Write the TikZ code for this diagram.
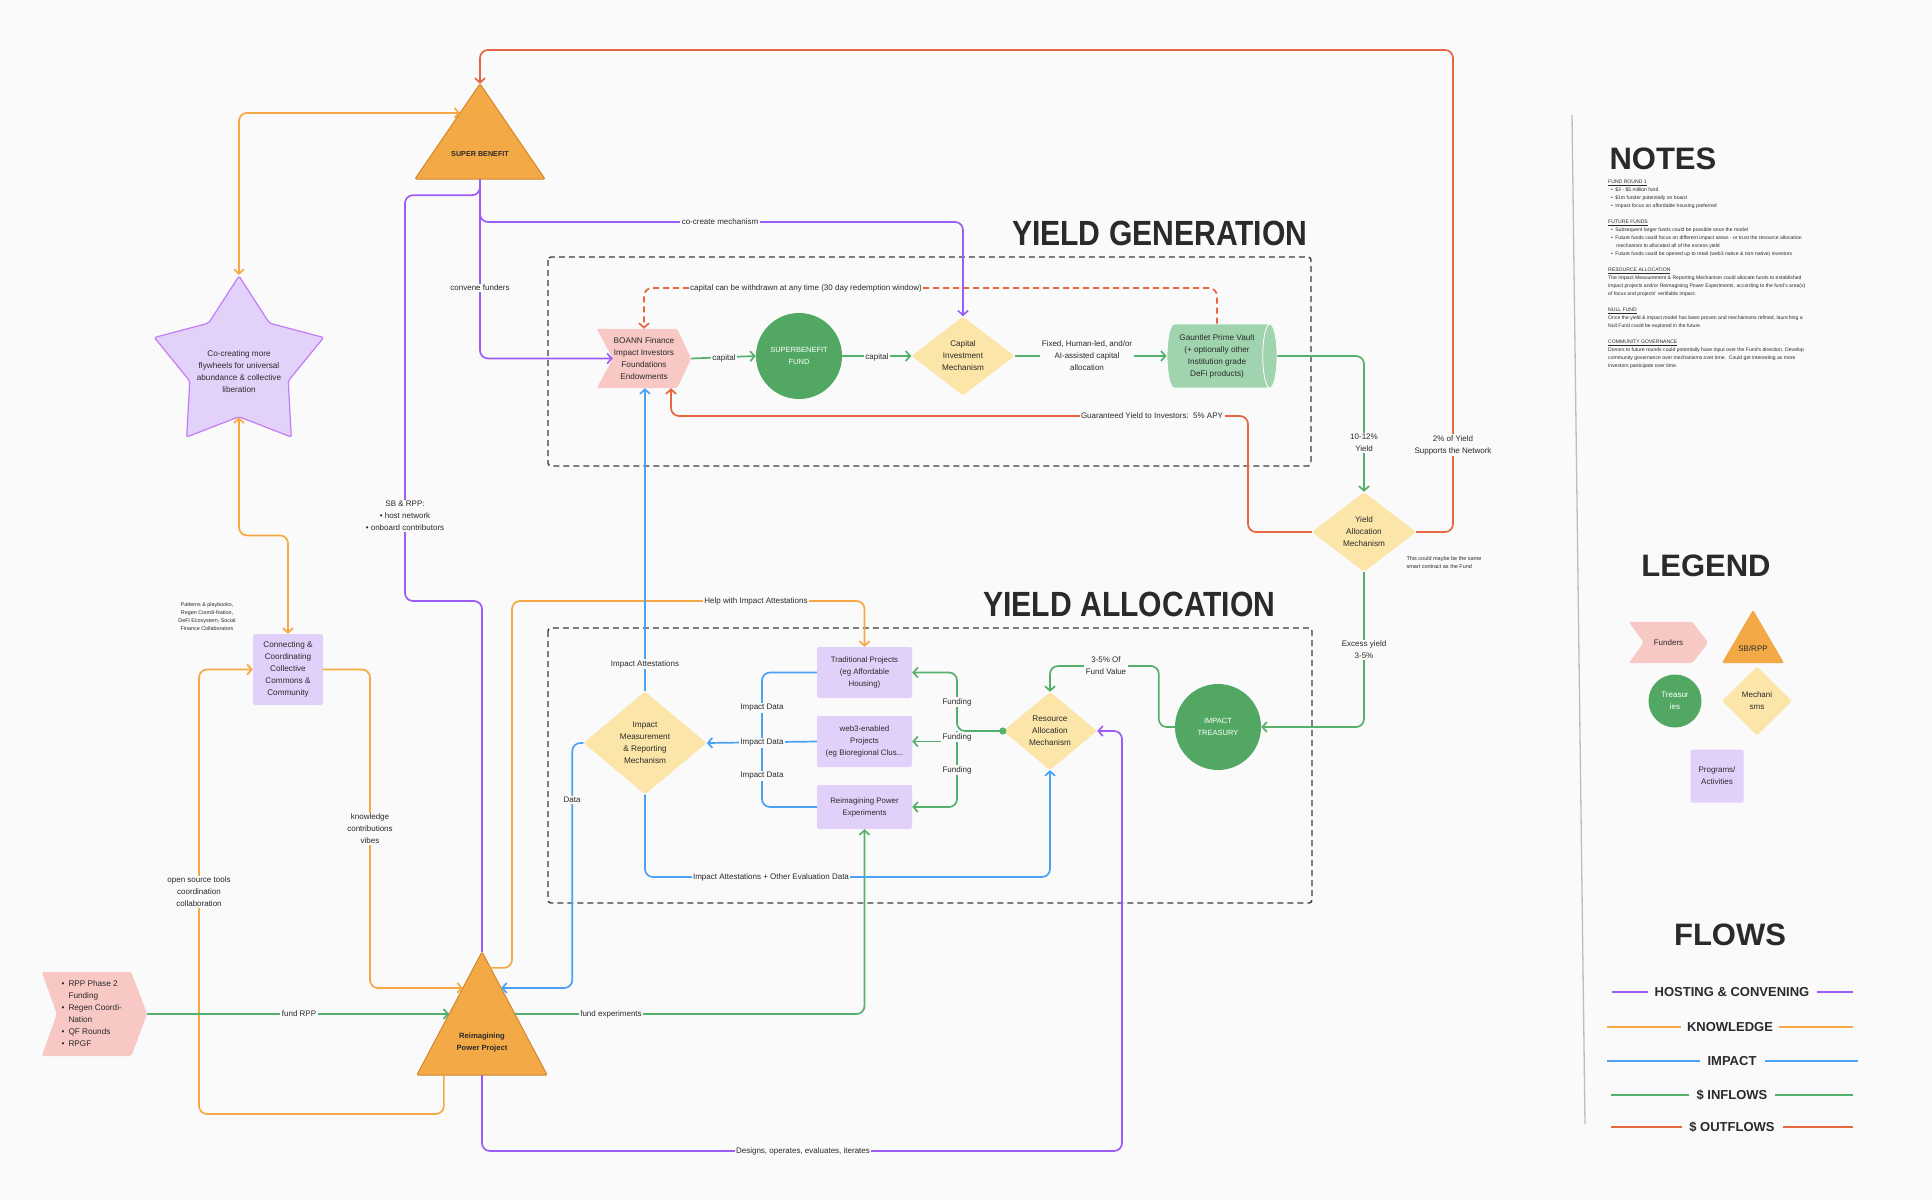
\documentclass[tikz,border=0pt]{standalone}
\usepackage{fontspec}
\setmainfont{Liberation Sans}
\newfontfamily\headfont{Liberation Sans}[FakeStretch=0.86]
\usetikzlibrary{arrows.meta,shapes.geometric,calc}
\pgfdeclarelayer{back}
\pgfdeclarelayer{canvas}
\pgfsetlayers{canvas,back,main}
\definecolor{bg}{HTML}{FAFAFA}
\definecolor{txt}{HTML}{2A2A2A}
\definecolor{cpur}{HTML}{9D5CF5}
\definecolor{corg}{HTML}{F5A844}
\definecolor{cblu}{HTML}{4BA2F4}
\definecolor{cgrn}{HTML}{55B06C}
\definecolor{cred}{HTML}{E4673F}
\definecolor{trif}{HTML}{F2A946}
\definecolor{trid}{HTML}{D2872E}
\definecolor{pinkf}{HTML}{F7C8C4}
\definecolor{circf}{HTML}{52A863}
\definecolor{diaf}{HTML}{FCE5A8}
\definecolor{boxf}{HTML}{E1D1FA}
\definecolor{starf}{HTML}{E2D2FA}
\definecolor{stard}{HTML}{C47CF4}
\definecolor{cylf}{HTML}{9FD4AE}
\definecolor{dashc}{HTML}{3C3C3C}
\definecolor{divc}{HTML}{BDBDBD}
\begin{document}
\begin{tikzpicture}[x=1pt,y=-1pt,
  every node/.style={text=txt},
  >={Straight Barb[length=4.5pt,width=10pt]},
  link/.style={line width=1.7pt, rounded corners=8pt},
  pur/.style={link, draw=cpur},
  org/.style={link, draw=corg},
  blu/.style={link, draw=cblu},
  grn/.style={link, draw=cgrn},
  red/.style={link, draw=cred},
  lbl/.style={fill=bg, inner sep=1.5pt, font=\fontsize{8}{12}\selectfont, align=center},
  ntx/.style={font=\fontsize{8.2}{12}\selectfont, align=center},
  dia/.style={diamond, fill=diaf, inner sep=0pt, rounded corners=2pt, ntx},
  pbox/.style={rectangle, fill=boxf, rounded corners=2pt, ntx, inner sep=0pt},
  trs/.style={circle, fill=circf, text=white, font=\fontsize{7.5}{12}\selectfont, align=center, inner sep=0pt},
  hold/.style={rectangle, inner sep=0pt},
  tri/.style={fill=trif, draw=trid, line width=1pt, rounded corners=2pt},
  chev/.style={fill=pinkf, rounded corners=2pt},
  dbox/.style={draw=dashc, line width=1.4pt, dash pattern=on 6pt off 4pt, rounded corners=3pt},
  small/.style={font=\fontsize{5.4}{8}\selectfont, align=center},
  ttl/.style={font=\bfseries\fontsize{31}{36}\selectfont},
  bigttl/.style={font=\headfont\bfseries\fontsize{35}{40}\selectfont},
  flw/.style={font=\bfseries\fontsize{13}{15}\selectfont}
]
\begin{pgfonlayer}{canvas}
\fill[bg] (0,0) rectangle (1932,1200);
\end{pgfonlayer}
\useasboundingbox (0,0) rectangle (1932,1200);

% divider
\draw[divc, line width=1.3pt] (1572,115) -- (1585,1124);

% dashed frames
\draw[dbox] (548,257) rectangle (1311,466);
\draw[dbox] (548,628) rectangle (1312,903);
\node[bigttl, anchor=east] (ygt) at (1311,233) {YIELD GENERATION};
\node[bigttl, anchor=east] (yat) at (1279,604) {YIELD ALLOCATION};

% ---------- nodes ----------
\node[hold, minimum width=130, minimum height=95] (sb) at (480,131.5) {};
\node[font=\bfseries\fontsize{7.2}{10}\selectfont] (sbt) at (480,154) {SUPER BENEFIT};
\node[hold, minimum width=130, minimum height=123] (rpp) at (482,1013.5) {};
\node[font=\bfseries\fontsize{7.6}{12}\selectfont, align=center] (rppt) at (482,1043) {Reimagining\\Power Project};

\node[star, star points=5, star point ratio=1.72, minimum size=178, inner sep=0pt,
      fill=starf, draw=stard, line width=1.2pt, rounded corners=2pt] (star) at (239,365) {};
\node[ntx] (start) at (239,372) {Co-creating more\\flywheels for universal\\abundance \& collective\\liberation};

\node[pbox, minimum width=70, minimum height=71] (conn) at (288,669.5) {Connecting \&\\Coordinating\\Collective\\Commons \&\\Community};
\node[small] (patt) at (207,617) {Patterns \& playbooks,\\Regen Coordi-Nation,\\DeFi Ecosystem, Social\\Finance Collaborators};

\node[hold, ntx, minimum width=94, minimum height=59] (boann) at (644,358.5) {BOANN Finance\\Impact Investors\\Foundations\\Endowments};
\node[trs, minimum size=86] (sbf) at (799,356) {SUPERBENEFIT\\FUND};
\node[dia, minimum width=103, minimum height=79, aspect=1.3] (cim) at (963,356) {Capital\\Investment\\Mechanism};
\node[cylinder, minimum width=64, minimum height=110, aspect=0.3, fill=cylf, draw=white, line width=0.8pt,
      ntx, inner xsep=1pt, inner ysep=2pt] (gaunt) at (1217,356) {Gauntlet Prime Vault\\(+ optionally other\\Institution grade\\DeFi products)};
\node[dia, minimum width=104, minimum height=80, aspect=1.3] (yam) at (1364,532) {Yield\\Allocation\\Mechanism};
\node[font=\fontsize{5.5}{8}\selectfont, align=left, anchor=west] (yamn) at (1403,563) {This could maybe be the same\\smart contract as the Fund};
\node[trs, minimum size=86] (treas) at (1218,727) {IMPACT\\TREASURY};
\node[dia, minimum width=94, minimum height=78, aspect=1.2] (ram) at (1050,731) {Resource\\Allocation\\Mechanism};
\node[dia, minimum width=123, minimum height=103, aspect=1.2] (imrm) at (645,743) {Impact\\Measurement\\\& Reporting\\Mechanism};
\node[pbox, minimum width=95, minimum height=51, font=\fontsize{7.9}{12}\selectfont] (trad) at (864.5,672.5) {Traditional Projects\\(eg Affordable\\Housing)};
\node[pbox, minimum width=95, minimum height=51, font=\fontsize{7.9}{12}\selectfont] (web3) at (864.5,741.5) {web3-enabled\\Projects\\(eg Bioregional Clus...};
\node[pbox, minimum width=95, minimum height=44, font=\fontsize{7.9}{12}\selectfont] (rpe) at (864.5,807) {Reimagining Power\\Experiments};

\node[hold, minimum width=105, minimum height=84] (rppf) at (94.5,1014) {};
\node[ntx, align=left, anchor=west] (rppft) at (58,1014) {\textbullet\enspace RPP Phase 2\\\hphantom{\textbullet\enspace}Funding\\\textbullet\enspace Regen Coordi-\\\hphantom{\textbullet\enspace}Nation\\\textbullet\enspace QF Rounds\\\textbullet\enspace RPGF};

% shape bodies on back layer
\begin{pgfonlayer}{back}
\path[tri] (sb.north) -- (sb.south east) -- (sb.south west) -- cycle;
\path[tri] (rpp.north) -- (rpp.south east) -- (rpp.south west) -- cycle;
\fill[chev] (boann.north west) -- ([xshift=-14pt]boann.north east) -- (boann.east) -- ([xshift=-14pt]boann.south east) -- (boann.south west) -- ([xshift=16pt]boann.west) -- cycle;
\fill[chev] (rppf.north west) -- ([xshift=-16pt]rppf.north east) -- (rppf.east) -- ([xshift=-16pt]rppf.south east) -- (rppf.south west) -- ([xshift=15pt]rppf.west) -- cycle;
\end{pgfonlayer}

% helper coordinates
\coordinate (sbL) at ($(sb.north)!0.305!(sb.south west)$);
\coordinate (sbB) at (sb.south);
\coordinate (rppL1) at ($(rpp.north)!0.293!(rpp.south west)$);
\coordinate (rppR1) at ($(rpp.north)!0.293!(rpp.south east)$);
\coordinate (rppL2) at ($(rpp.north)!0.504!(rpp.south west)$);
\coordinate (rppR2) at ($(rpp.north)!0.504!(rpp.south east)$);
\coordinate (rppR0) at ($(rpp.north)!0.13!(rpp.south east)$);
\coordinate (rppB) at ($(rpp.south)!0.585!(rpp.south west)$);
\coordinate (boannIn) at ([xshift=16pt]boann.west);
\coordinate (boannB) at ([xshift=27pt]boann.south);
\coordinate (fj) at (957,731);

% ---------- connectors ----------
% orange / knowledge
\draw[org,<->] (star.north) |- (sbL);
\draw[org,<->] (star.south) -- ++(0,118) -| (conn.north);
\draw[org,->] (rppB) |- (199,1114) |- (conn.west);
\draw[org,->] (conn.east) -| (370,988) -- (rppL1);
\draw[org,->] (rppR0) -| (512,601) -| (trad.north);

% purple / hosting
\draw[pur] (sbB) -- ++(0,16) -| (405,601) -| (rpp.north);
\draw[pur,->] (sbB) |- (700,222) -| (cim.north);
\draw[pur,->] (sbB) |- (boannIn);
\draw[pur,->] (rpp.south) |- (800,1151) -| (1122,731) -- (ram.east);

% green / inflows
\draw[grn,->] (boann.east) -- (sbf.west);
\draw[grn,->] (sbf.east) -- (cim.west);
\draw[grn,->] (cim.east) -- (gaunt.west);
\draw[grn,->] (gaunt.east) -| (yam.north);
\draw[grn,->] (yam.south) |- (treas.east);
\draw[grn,->] (treas.west) -- ++(-16,0) |- (1100,666) -| (ram.north);
\draw[grn,->] (ram.west) -- (fj) |- (trad.east);
\draw[grn,->] (fj) |- (rpe.east);
\draw[grn,->] (fj |- web3.east) -- (web3.east);
\fill[cgrn] (ram.west) circle (3.6pt);
\draw[grn,->] (rppf.east) -- (rppL2);
\draw[grn,->] (rppR2) -| (rpe.south);

% red / outflows
\draw[red,->] (yam.east) -| (1453,50) -| (sb.north);
\draw[red,->] (yam.west) -| (1248,416) -| (boannB);
\draw[red,->, dash pattern=on 6pt off 4pt] (gaunt.north) |- (800,288) -| (boann.north);

% blue / impact
\draw[blu,->] (web3.west) -- (imrm.east);
\draw[blu] (trad.west) -| (762,741);
\draw[blu] (rpe.west) -| (762,741);
\draw[blu,->] (imrm.north) -- (imrm.north |- boann.south);
\draw[blu,->] (imrm.south) |- (800,877) -| (ram.south);
\draw[blu,->] (imrm.west) -- ++(-11,0) |- (rppR1);

% ---------- labels ----------
\node[lbl] (l1) at (720,222) {co-create mechanism};
\node[lbl] (l2) at (480,288) {convene funders};
\node[lbl] (l3) at (405,516) {SB \& RPP:\\\textbullet\ host network\\\textbullet\ onboard contributors};
\node[lbl] (l4) at (806,288) {capital can be withdrawn at any time (30 day redemption window)};
\node[lbl] (l5) at (724,358) {capital};
\node[lbl] (l6) at (877,357) {capital};
\node[lbl] (l7) at (1087,356) {Fixed, Human-led, and/or\\AI-assisted capital\\allocation};
\node[lbl] (l8) at (1152,416) {Guaranteed Yield to Investors:\ \ 5\% APY};
\node[lbl] (l9) at (1364,443) {10-12\%\\Yield};
\node[lbl] (l10) at (1453,445) {2\% of Yield\\Supports the Network};
\node[lbl] (l11) at (1364,650) {Excess yield\\3-5\%};
\node[lbl] (l12) at (1106,666) {3-5\% Of\\Fund Value};
\node[lbl] (l13) at (756,601) {Help with Impact Attestations};
\node[lbl] (l14) at (645,664) {Impact Attestations};
\node[lbl] (l15) at (762,708) {Impact Data};
\node[lbl] (l16) at (762,743) {Impact Data};
\node[lbl] (l17) at (762,776) {Impact Data};
\node[lbl] (l18) at (957,702) {Funding};
\node[lbl] (l19) at (957,737) {Funding};
\node[lbl] (l20) at (957,770) {Funding};
\node[lbl] (l21) at (572,800) {Data};
\node[lbl] (l22) at (771,877) {Impact Attestations + Other Evaluation Data};
\node[lbl] (l23) at (299,1014) {fund RPP};
\node[lbl] (l24) at (611,1014) {fund experiments};
\node[lbl] (l25) at (803,1151) {Designs, operates, evaluates, iterates};
\node[lbl] (l26) at (199,892) {open source tools\\coordination\\collaboration};
\node[lbl] (l27) at (370,829) {knowledge\\contributions\\vibes};

% ---------- notes ----------
\node[ttl, anchor=west] (notes) at (1606,159) {NOTES};
\node[anchor=north west, inner sep=0pt, align=left, font=\fontsize{5.1}{8}\selectfont] (notest) at (1608,180) {%
\underline{FUND ROUND 1}\\
\hspace*{3pt}\textbullet\hspace{2.3pt}\$3 - \$5 million fund\\
\hspace*{3pt}\textbullet\hspace{2.3pt}\$1m funder potentially on board\\
\hspace*{3pt}\textbullet\hspace{2.3pt}Impact focus on affordable housing preferred\\[8pt]
\underline{FUTURE FUNDS}\\
\hspace*{3pt}\textbullet\hspace{2.3pt}Subsequent larger funds could be possible once the model\\
\hspace*{3pt}\textbullet\hspace{2.3pt}Future funds could focus on different impact areas - or trust the resource allocation\\
\hspace*{8.1pt}mechanism to allocated all of the excess yield\\
\hspace*{3pt}\textbullet\hspace{2.3pt}Future funds could be opened up to retail (web3 native \& non-native) investors\\[8pt]
\underline{RESOURCE ALLOCATION}\\
The Impact Measurement \& Reporting Mechanism could allocate funds to established\\
impact projects and/or Reimagining Power Experiments, according to the fund's area(s)\\
of focus and projects' verifiable impact.\\[8pt]
\underline{NULL FUND}\\
Once the yield \& impact model has been proven and mechanisms refined, launching a\\
Null Fund could be explored in the future.\\[8pt]
\underline{COMMUNITY GOVERNANCE}\\
Donors to future rounds could potentially have input over the Fund's direction. Develop\\
community governance over mechanisms over time.\ \ Could get interesting as more\\
investors participate over time.};

% ---------- legend ----------
\node[ttl] (legend) at (1706,566) {LEGEND};
\node[hold, minimum width=79, minimum height=41, font=\fontsize{8}{12}\selectfont] (lgf) at (1668.5,642.5) {Funders};
\node[hold, minimum width=62, minimum height=53] (lgs) at (1753,636.5) {};
\node[font=\fontsize{8}{12}\selectfont] (lgst) at (1753,649) {SB/RPP};
\begin{pgfonlayer}{back}
\fill[chev] (lgf.north west) -- ([xshift=-16pt]lgf.north east) -- (lgf.east) -- ([xshift=-16pt]lgf.south east) -- (lgf.south west) -- ([xshift=15pt]lgf.west) -- cycle;
\fill[fill=trif, rounded corners=2pt] (lgs.north) -- (lgs.south east) -- (lgs.south west) -- cycle;
\end{pgfonlayer}
\node[trs, minimum size=53, font=\fontsize{8}{12}\selectfont] (lgt) at (1675,701) {Treasur\\ies};
\node[dia, minimum width=70, minimum height=69, aspect=1, font=\fontsize{8}{12}\selectfont] (lgm) at (1757,701) {Mechani\\sms};
\node[pbox, minimum width=53, minimum height=53, font=\fontsize{8}{12}\selectfont] (lgp) at (1717,776) {Programs/\\Activities};

% ---------- flows ----------
\node[ttl] (flows) at (1730,935) {FLOWS};
\node[flw] (f1) at (1732,992) {HOSTING \& CONVENING};
\draw[cpur, line width=1.7pt] (1612,992) -- (1648,992) (1817,992) -- (1853,992);
\node[flw] (f2) at (1730,1027) {KNOWLEDGE};
\draw[corg, line width=1.7pt] (1607,1027) -- (1681,1027) (1779,1027) -- (1853,1027);
\node[flw] (f3) at (1732,1061) {IMPACT};
\draw[cblu, line width=1.7pt] (1607,1061) -- (1700,1061) (1765,1061) -- (1858,1061);
\node[flw] (f4) at (1732,1095) {\$ INFLOWS};
\draw[cgrn, line width=1.7pt] (1611,1095) -- (1689,1095) (1775,1095) -- (1853,1095);
\node[flw] (f5) at (1732,1127) {\$ OUTFLOWS};
\draw[cred, line width=1.7pt] (1611,1127) -- (1682,1127) (1783,1127) -- (1853,1127);
\end{tikzpicture}
\end{document}
